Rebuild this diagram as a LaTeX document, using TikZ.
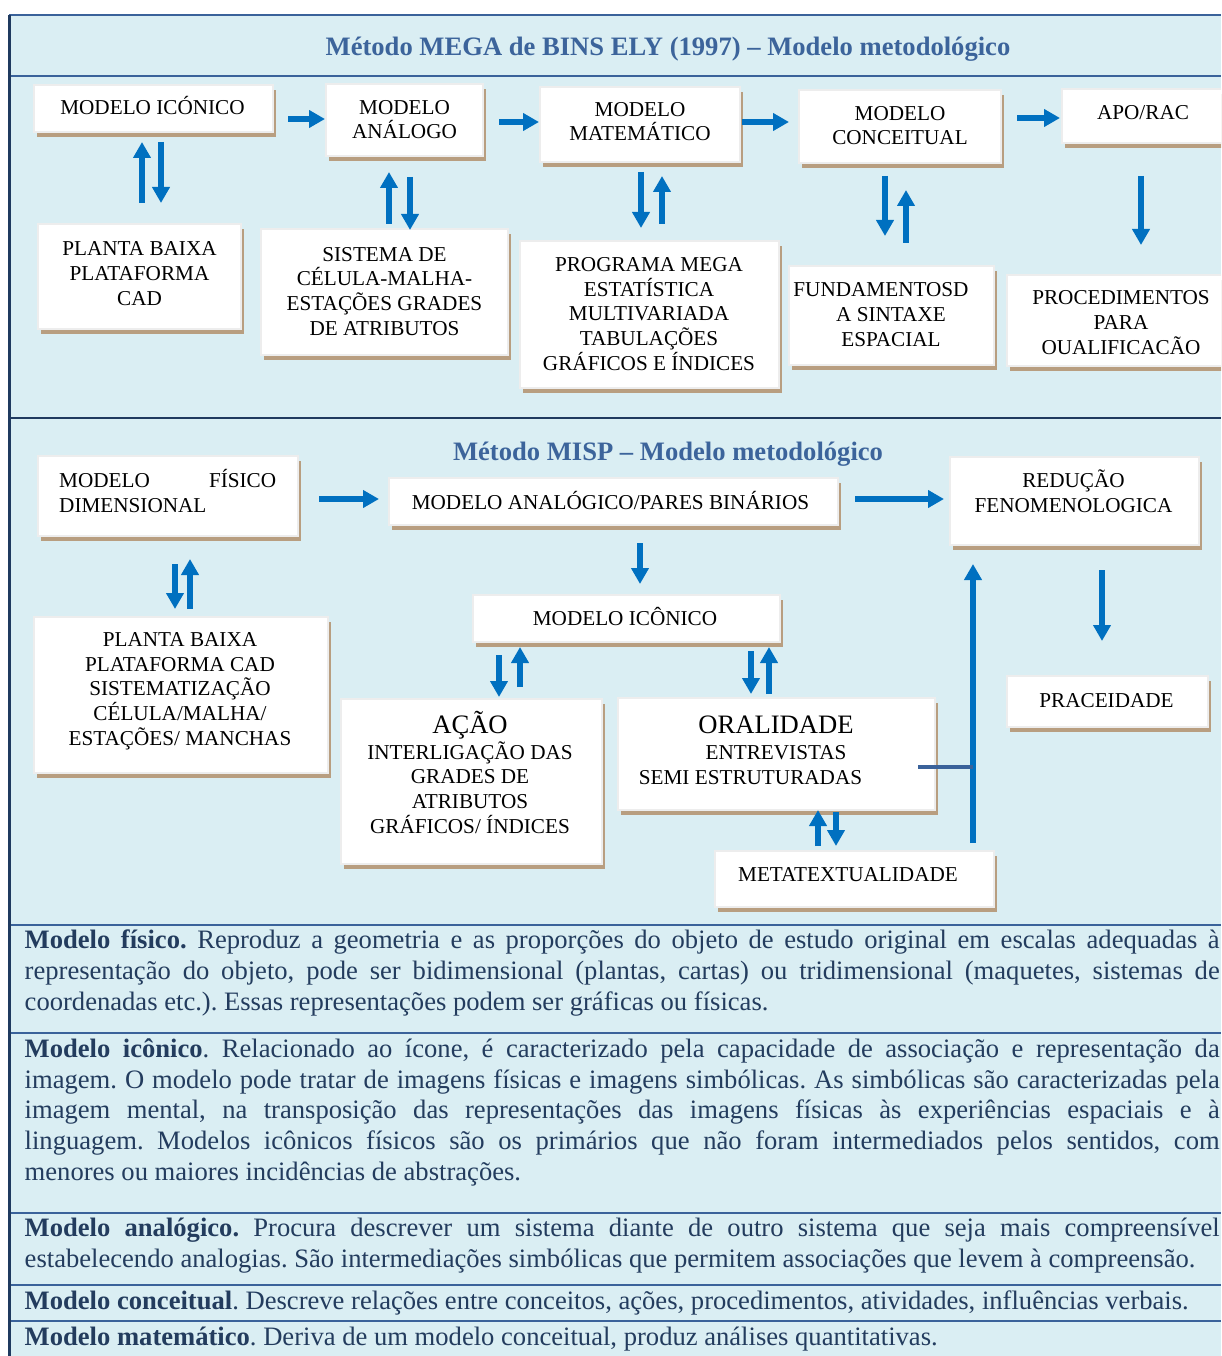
\documentclass[tikz,border=0pt]{standalone}
\usepackage{fontspec}
\setmainfont{Liberation Serif}
\usetikzlibrary{arrows.meta}
\frenchspacing
\definecolor{bgblue}{HTML}{DAEEF3}
\definecolor{frameblue}{HTML}{3A629A}
\definecolor{darkline}{HTML}{1F3A5F}
\definecolor{titleblue}{HTML}{3C649B}
\definecolor{arrowblue}{HTML}{0070C0}
\definecolor{shadowtan}{HTML}{B89E80}
\definecolor{paratext}{HTML}{233C5E}
\definecolor{boxedge}{HTML}{EDEDED}
\newcommand\boxlines[1]{\vbox{\baselineskip=24.6pt\halign{\hfil##\hfil\cr#1\crcr}}}
\newcommand\mkbox[5]{%
  \fill[shadowtan] ({#2+3},{#3+5}) rectangle ({#4+3},{#5+5});
  \node[box, minimum width={#4-#2}, minimum height={#5-#3}] (#1) at ({(#2+#4)/2},{(#3+#5)/2}) {};}
\newcommand\bluearrow[3]{%
  \coordinate (#1-s) at (#2); \coordinate (#1-e) at (#3);
  \draw[arr] (#1-s) -- (#1-e);}
\newcommand\jline[1]{\hbox to 1195pt{#1}}
\begin{document}
\begin{tikzpicture}[x=1pt,y=-1pt,
  box/.style={fill=white, draw=boxedge, line width=2pt, inner sep=0pt},
  boxtxt/.style={inner sep=0pt, anchor=base, font=\fontsize{21.2}{24.6}\selectfont, text=black},
  ttl/.style={inner sep=0pt, anchor=base, font=\bfseries\fontsize{26.6}{30}\selectfont, text=titleblue},
  para/.style={inner sep=0pt, anchor=base west, font=\fontsize{26.6}{30.6}\selectfont, text=paratext},
  arr/.style={draw=arrowblue, line width=5.5pt, -{Triangle[width=17pt,length=16pt]}},
]
\useasboundingbox (0,0) rectangle (1221,1356);
\clip (0,0) rectangle (1221,1356);
% frame
\fill[white] (0,0) rectangle (1221,1356);
\fill[bgblue] (9,15) rectangle (1221,1356);
\draw[frameblue, line width=2.5] (9,15) -- (1221,15);
\draw[frameblue, line width=2.5] (9,76) -- (1221,76);
\draw[darkline, line width=2.5] (9,418) -- (1221,418);
\foreach \yy in {925,1033,1213,1285,1321} \draw[frameblue, line width=2.5] (9,\yy) -- (1221,\yy);
\draw[darkline, line width=2.5] (9.5,15) -- (9.5,1356);

% titles
\node[ttl] (title1) at (668,56) {Método MEGA de BINS ELY (1997) – Modelo metodológico};
\node[ttl] (title2) at (668,460) {Método MISP – Modelo metodológico};

% boxes top
\mkbox{A}{34}{85}{273}{132}
\mkbox{B}{326}{84}{483}{156}
\mkbox{C}{540}{87}{740}{162}
\mkbox{D}{799}{90}{1001}{163}
\mkbox{E}{1062}{89}{1300}{143}
\mkbox{F}{38}{224}{241}{329}
\mkbox{G}{261}{229}{508}{355}
\mkbox{H}{520}{241}{779}{388}
\mkbox{I}{789}{266}{994}{365}
\mkbox{J}{1007}{275}{1300}{366}
% boxes middle
\mkbox{K}{38}{456}{298}{536}
\mkbox{L}{389}{478}{838}{525}
\mkbox{M}{950}{457}{1199}{545}
\mkbox{N}{34}{617}{328}{773}
\mkbox{O}{473}{595}{780}{642}
\mkbox{P}{341}{699}{602}{864}
\mkbox{Q}{618}{698}{935}{810}
\mkbox{R}{715}{851}{994}{907}
\mkbox{S}{1007}{676}{1208}{727}

% box texts
\node[boxtxt] (At) at (152.5,115) {\boxlines{MODELO ICÓNICO}};
\node[boxtxt] (Bt) at (404.5,139) {\boxlines{MODELO\cr ANÁLOGO}};
\node[boxtxt] (Ct) at (640,141) {\boxlines{MODELO\cr MATEMÁTICO}};
\node[boxtxt] (Dt) at (900,145) {\boxlines{MODELO\cr CONCEITUAL}};
\node[boxtxt] (Et) at (1143,120) {\boxlines{APO/RAC}};
\node[boxtxt] (Ft) at (139.5,305) {\boxlines{PLANTA BAIXA\cr PLATAFORMA\cr CAD}};
\node[boxtxt] (Gt) at (384.5,335) {\boxlines{SISTEMA DE\cr CÉLULA-MALHA-\cr ESTAÇÕES GRADES\cr DE ATRIBUTOS}};
\node[boxtxt] (Ht) at (649,370) {\boxlines{PROGRAMA MEGA\cr ESTATÍSTICA\cr MULTIVARIADA\cr TABULAÇÕES\cr GRÁFICOS E ÍNDICES}};
\node[boxtxt] (It) at (891,346) {\boxlines{FUNDAMENTOSD\hskip20pt\cr A SINTAXE\cr ESPACIAL}};
\node[boxtxt] (Jt) at (1121,354) {\boxlines{PROCEDIMENTOS\cr PARA\cr OUALIFICACÃO}};
\node[boxtxt, anchor=base west] (Kt) at (59,512) {\vbox{\baselineskip=24.6pt\hbox to 217pt{MODELO\hfil FÍSICO}\hbox{DIMENSIONAL}}};
\node[boxtxt] (Lt) at (610.5,509) {\boxlines{MODELO ANALÓGICO/PARES BINÁRIOS}};
\node[boxtxt] (Mt) at (1073.5,512) {\boxlines{REDUÇÃO\cr FENOMENOLOGICA}};
\node[boxtxt] (Nt) at (180,745) {\boxlines{PLANTA BAIXA\cr PLATAFORMA CAD\cr SISTEMATIZAÇÃO\cr CÉLULA/MALHA/\cr ESTAÇÕES/ MANCHAS}};
\node[boxtxt] (Ot) at (625,625) {\boxlines{MODELO ICÔNICO}};
\node[boxtxt] (Pt) at (470,833) {\boxlines{{\fontsize{26.6}{30}\selectfont AÇÃO}\cr\noalign{\vskip1.4pt}INTERLIGAÇÃO DAS\cr GRADES DE\cr ATRIBUTOS\cr GRÁFICOS/ ÍNDICES}};
\node[boxtxt] (Qt) at (776,784) {\boxlines{{\fontsize{26.6}{30}\selectfont ORALIDADE}\cr\noalign{\vskip1.4pt}ENTREVISTAS\cr SEMI ESTRUTURADAS\hskip51pt}};
\node[boxtxt] (Rt) at (848,881) {\boxlines{METATEXTUALIDADE}};
\node[boxtxt] (St) at (1106.5,707) {\boxlines{PRACEIDADE}};

% arrows top
\bluearrow{h1}{288,119}{325,119}
\bluearrow{h2}{499,122}{539,122}
\bluearrow{h3}{742,122}{789,122}
\bluearrow{h4}{1017,118}{1060,118}
\bluearrow{va1}{142,203}{142,142}
\bluearrow{va2}{161,142}{161,203}
\bluearrow{vb1}{389,224}{389,172}
\bluearrow{vb2}{410,177}{410,230}
\bluearrow{vc1}{641,172}{641,228}
\bluearrow{vc2}{662,224}{662,176}
\bluearrow{vd1}{885,176}{885,236}
\bluearrow{vd2}{906,243}{906,190}
\bluearrow{ve1}{1141,176}{1141,245}
% arrows middle
\bluearrow{h5}{319,499}{379,499}
\bluearrow{h6}{855,499}{944,499}
\bluearrow{vk1}{175,564}{175,609}
\bluearrow{vk2}{190,609}{190,559}
\bluearrow{vl1}{640,543}{640,584}
\bluearrow{vo1}{499,655}{499,697}
\bluearrow{vo2}{520,687}{520,647}
\bluearrow{vo3}{751,651}{751,694}
\bluearrow{vo4}{769,694}{769,647}
\bluearrow{vq1}{818,846}{818,810}
\bluearrow{vq2}{836,812}{836,846}
\bluearrow{big}{973,843}{973,564}
\bluearrow{vm1}{1102,570}{1102,641}
\coordinate (qlink) at (918,767);
\coordinate (biglink) at (973,767);
\draw[frameblue, line width=4] (qlink) -- (biglink);

% paragraphs
\node[para] (p1) at (24.5,1010) {\vbox{\baselineskip=30.6pt
\jline{\textbf{Modelo físico.} Reproduz a geometria e as proporções do objeto de estudo original em escalas adequadas à}
\jline{representação do objeto, pode ser bidimensional (plantas, cartas) ou tridimensional (maquetes, sistemas de}
\hbox{coordenadas etc.). Essas representações podem ser gráficas ou físicas.}}};
\node[para] (p2) at (24.5,1180) {\vbox{\baselineskip=30.6pt
\jline{\textbf{Modelo icônico}. Relacionado ao ícone, é caracterizado pela capacidade de associação e representação da}
\jline{imagem. O modelo pode tratar de imagens físicas e imagens simbólicas. As simbólicas são caracterizadas pela}
\jline{imagem mental, na transposição das representações das imagens físicas às experiências espaciais e à}
\jline{linguagem. Modelos icônicos físicos são os primários que não foram intermediados pelos sentidos, com}
\hbox{menores ou maiores incidências de abstrações.}}};
\node[para] (p3) at (24.5,1267) {\vbox{\baselineskip=30.6pt
\jline{\textbf{Modelo analógico.} Procura descrever um sistema diante de outro sistema que seja mais compreensível}
\hbox{estabelecendo analogias. São intermediações simbólicas que permitem associações que levem à compreensão.}}};
\node[para] (p4) at (24.5,1309) {\hbox{\textbf{Modelo conceitual}. Descreve relações entre conceitos, ações, procedimentos, atividades, influências verbais.}};
\node[para] (p5) at (24.5,1345) {\hbox{\textbf{Modelo matemático}. Deriva de um modelo conceitual, produz análises quantitativas.}};
\end{tikzpicture}
\end{document}
